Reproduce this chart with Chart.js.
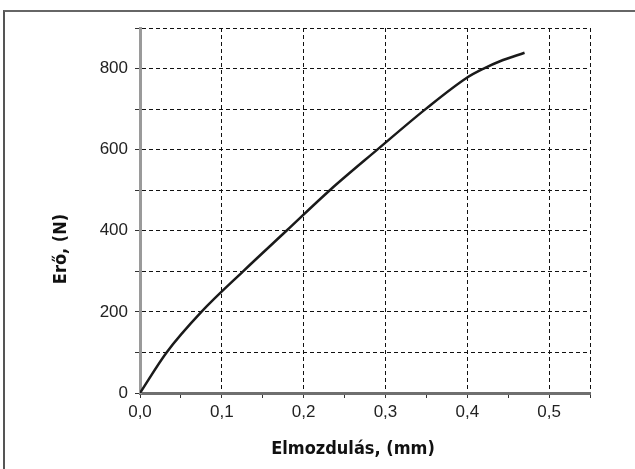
<!DOCTYPE html>
<html>
<head>
<meta charset="utf-8">
<script src="https://cdn.jsdelivr.net/npm/chart.js@4"></script>
<style>
  body { margin: 0; background: #fff; }
  #wrap { position: relative; width: 635px; height: 469px; }
  #frame { position: absolute; left: 3px; top: 10px; right: 0; bottom: 0;
           border-top: 2px solid #666; border-left: 2px solid #555; }
  canvas { position: absolute; left: 0; top: 0; }
</style>
</head>
<body>
<div id="wrap">
  <div id="frame"></div>
  <canvas id="forceChart" width="635" height="469"></canvas>
</div>
<script>
// Displacement (mm) vs force (N)
const displacement = [0, 0.0325, 0.075, 0.126, 0.179, 0.232, 0.29, 0.349, 0.4, 0.42, 0.44, 0.47];
const force = [0, 100, 200, 300, 400, 500, 600, 700, 778, 800, 818, 839];

const xTitle = 'Elmozdulás, (mm)';
const yTitle = 'Erő, (N)';

const tickFont = { family: 'Liberation Sans', size: 17 };
const titleFont = 'bold 18px "DejaVu Sans Condensed"';

// axis titles sit off-centre in the original, so draw them by hand
const axisTitles = {
    id: 'axisTitles',
    afterDraw(chart) {
        const c = chart.ctx;
        c.save();
        c.fillStyle = '#111';
        c.font = titleFont;
        c.textAlign = 'center';
        c.textBaseline = 'middle';
        c.fillText(xTitle, 353, 449);
        c.translate(61, 249);
        c.rotate(-Math.PI / 2);
        c.fillText(yTitle, 0, 0);
        c.restore();
    }
};

const isMajorX = v => {
    const k = Math.round(v * 100);
    return k % 10 === 0 || k === 55;
};

new Chart(document.getElementById('forceChart'), {
    type: 'scatter',
    data: {
        datasets: [{
            data: displacement.map((x, i) => ({ x: x, y: force[i] })),
            showLine: true,
            borderColor: '#1a1a1a',
            borderWidth: 2.5,
            pointRadius: 0,
            cubicInterpolationMode: 'monotone',
        }],
    },
    options: {
        responsive: false,
        animation: false,
        layout: { padding: { top: 28, right: 45, left: 0, bottom: 0 } },
        plugins: { legend: { display: false }, tooltip: { enabled: false } },
        scales: {
            x: {
                type: 'linear',
                min: 0,
                max: 0.55,
                afterFit(scale) { scale.height = 76; },
                border: { color: '#6f6f6f', width: 3, dash: [4, 3] },
                grid: {
                    color: ctx => isMajorX(ctx.tick.value) ? '#111' : 'rgba(0,0,0,0)',
                    tickColor: '#333',
                    tickBorderDash: [],
                    tickLength: 5,
                },
                ticks: {
                    stepSize: 0.05,
                    autoSkip: false,
                    maxRotation: 0,
                    padding: 4,
                    color: '#222',
                    font: tickFont,
                    callback: v => {
                        const k = Math.round(v * 100);
                        return k % 10 === 0 ? (k / 100).toFixed(1).replace('.', ',') : '';
                    },
                },
            },
            y: {
                min: 0,
                max: 900,
                afterFit(scale) { scale.width = 140; },
                border: { color: '#9a9a9a', width: 3, dash: [4, 3] },
                grid: {
                    color: '#111',
                    tickColor: '#333',
                    tickBorderDash: [],
                    tickLength: 5,
                },
                ticks: {
                    stepSize: 100,
                    autoSkip: false,
                    padding: 7,
                    color: '#222',
                    font: tickFont,
                    callback: v => (v % 200 === 0 ? v : ''),
                },
            },
        },
    },
    plugins: [axisTitles],
});
</script>
</body>
</html>
